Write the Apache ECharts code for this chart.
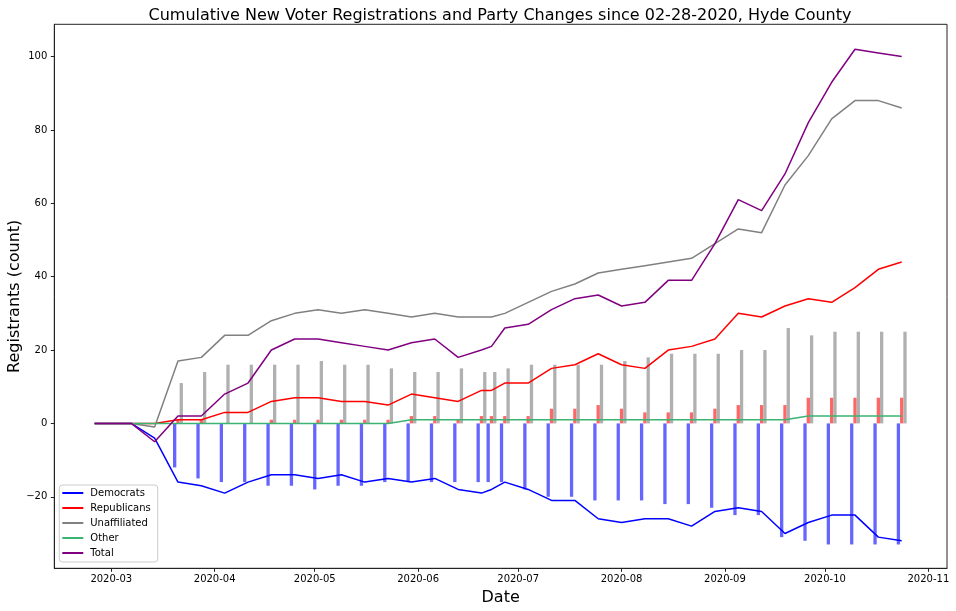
<!DOCTYPE html>
<html>
<head>
<meta charset="utf-8">
<script src="https://cdn.jsdelivr.net/npm/echarts@6/dist/echarts.min.js"></script>
<style>
html,body{margin:0;padding:0;background:#fff;}
#chart{width:956px;height:611px;}
</style>
</head>
<body>
<div id="chart"></div>
<script>
// ---- data ----
var dates = ['2020-02-25','2020-03-07','2020-03-14','2020-03-21','2020-03-28','2020-04-04','2020-04-11',
  '2020-04-18','2020-04-25','2020-05-02','2020-05-09','2020-05-16','2020-05-23','2020-05-30','2020-06-06',
  '2020-06-13','2020-06-20','2020-06-23','2020-06-27','2020-07-04','2020-07-11','2020-07-18','2020-07-25',
  '2020-08-01','2020-08-08','2020-08-15','2020-08-22','2020-08-29','2020-09-05','2020-09-12','2020-09-19',
  '2020-09-26','2020-10-03','2020-10-10','2020-10-17','2020-10-24'];
var democrats    = [0,0,-4,-16,-17,-19,-16,-14,-14,-15,-14,-16,-15,-16,-15,-18,-19,-18,-16,-18,-21,-21,-26,-27,-26,-26,-28,-24,-23,-24,-30,-27,-25,-25,-31,-32];
var republicans  = [0,0,0,1,1,3,3,6,7,7,6,6,5,8,7,6,9,9,11,11,15,16,19,16,15,20,21,23,30,29,32,34,33,37,42,44];
var unaffiliated = [0,0,-1,17,18,24,24,28,30,31,30,31,30,29,30,29,29,29,30,33,36,38,41,42,43,44,45,49,53,52,65,73,83,88,88,86];
var other        = [0,0,0,0,0,0,0,0,0,0,0,0,0,1,1,1,1,1,1,1,1,1,1,1,1,1,1,1,1,1,1,2,2,2,2,2];
var total        = [0,0,-5,2,2,8,11,20,23,23,22,21,20,22,23,18,20,21,26,27,31,34,35,32,33,39,39,49,61,58,68,82,93,102,101,100];
// bars (one per date from 2020-03-21 on)
var barDates = dates.slice(3);
var barDem = [-12,-15,-16,-16,-17,-17,-18,-17,-17,-16,-16,-16,-16,-16,-16,-16,-18,-20,-20,-21,-21,-21,-22,-22,-23,-25,-25,-31,-32,-33,-33,-33,-33];
var barRep = [1,1,0,0,1,1,1,1,1,1,2,2,1,2,2,2,2,4,4,5,4,3,3,3,4,5,5,5,7,7,7,7,7];
var barUna = [11,14,16,16,16,16,17,16,16,15,14,14,15,14,14,15,16,16,16,16,17,18,19,19,19,20,20,26,24,25,25,25,25];
var yTicks = [-20,0,20,40,60,80,100];
var xTickLabels = ['2020-03','2020-04','2020-05','2020-06','2020-07','2020-08','2020-09','2020-10','2020-11'];

// ---- helpers ----
function ts(s){ return Date.parse(s + 'T00:00:00Z'); }
function pairs(ds, vs){ return ds.map(function(d,i){ return [ts(d), vs[i]]; }); }
var xTickValues = xTickLabels.map(function(l){ return ts(l + '-01'); });
function fmtY(v){ return v < 0 ? '\u2212' + Math.abs(v) : String(v); }
function fmtX(v){
  var d = new Date(v);
  var m = d.getUTCMonth() + 1;
  return d.getUTCFullYear() + '-' + (m < 10 ? '0' + m : m);
}
var FONT = 'DejaVu Sans';

var lineDefs = [
  ['Democrats', democrats, '#0000ff'],
  ['Republicans', republicans, '#ff0000'],
  ['Unaffiliated', unaffiliated, '#808080'],
  ['Other', other, '#3cb371'],
  ['Total', total, '#800080']
];
var barDefs = [
  ['D bars', barDem, '#6666ff'],
  ['R bars', barRep, '#ff6666'],
  ['U bars', barUna, '#b0b0b0']
];

var series = [];
barDefs.forEach(function(b){
  series.push({
    name: b[0], type: 'bar', data: pairs(barDates, b[1]),
    barWidth: 3.3, barGap: '0%', z: 1,
    itemStyle: { color: b[2] }, silent: true, legendHoverLink: false
  });
});
lineDefs.forEach(function(l){
  series.push({
    name: l[0], type: 'line', data: pairs(dates, l[1]),
    showSymbol: false, symbol: 'none', z: 3,
    lineStyle: { width: 1.5, color: l[2] }, itemStyle: { color: l[2] }
  });
});

var chart = echarts.init(document.getElementById('chart'), null, { renderer: 'canvas' });
chart.setOption({
  animation: false,
  backgroundColor: '#ffffff',
  textStyle: { fontFamily: FONT },
  title: {
    text: 'Cumulative New Voter Registrations and Party Changes since 02-28-2020, Hyde County',
    left: 495, top: 3, textAlign: 'center',
    textStyle: { fontFamily: FONT, fontSize: 16, fontWeight: 'normal', color: '#000' }
  },
  grid: {
    left: 54.3, top: 24.3, right: 9, bottom: 42.7,
    containLabel: false, outerBoundsMode: 'none',
    show: true, borderColor: '#222', borderWidth: 1, backgroundColor: 'transparent'
  },
  legend: {
    data: lineDefs.map(function(l){ return l[0]; }),
    orient: 'vertical', left: 59.3, top: 485,
    icon: 'rect', itemWidth: 21, itemHeight: 2, itemGap: 3,
    padding: [2, 7, 3, 3],
    borderColor: '#cccccc', borderWidth: 1, borderRadius: 3,
    backgroundColor: 'rgba(255,255,255,0.8)',
    textStyle: { fontFamily: FONT, fontSize: 10, color: '#000', lineHeight: 12, padding: [0,0,0,2] }
  },
  xAxis: {
    type: 'value', scale: true,
    min: Date.UTC(2020, 1, 12, 22), max: Date.UTC(2020, 10, 6, 14),
    name: 'Date', nameLocation: 'middle', nameGap: 22, nameMoveOverlap: false,
    nameTextStyle: { fontFamily: FONT, fontSize: 16, color: '#000' },
    axisLine: { show: true, onZero: false, lineStyle: { color: '#222', width: 1 } },
    axisTick: { show: true, length: 3.5, lineStyle: { color: '#222' }, customValues: xTickValues },
    axisLabel: { fontFamily: FONT, fontSize: 10, color: '#000', margin: 6, customValues: xTickValues, formatter: fmtX },
    splitLine: { show: false }
  },
  yAxis: {
    type: 'value', min: -39.5, max: 108.8,
    name: 'Registrants (count)', nameLocation: 'middle', nameRotate: 90, nameGap: 31, nameMoveOverlap: false,
    nameTextStyle: { fontFamily: FONT, fontSize: 16, color: '#000' },
    axisLine: { show: true, onZero: false, lineStyle: { color: '#222', width: 1 } },
    axisTick: { show: true, length: 3.5, lineStyle: { color: '#222' }, customValues: yTicks },
    axisLabel: { fontFamily: FONT, fontSize: 10, color: '#000', margin: 7, customValues: yTicks, formatter: fmtY },
    splitLine: { show: false }
  },
  series: series
});
</script>
</body>
</html>
